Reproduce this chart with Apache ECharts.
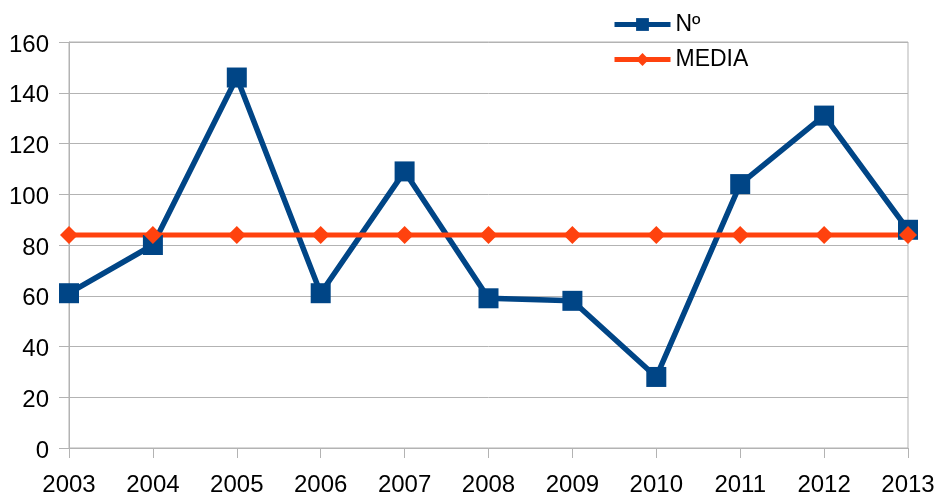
<!DOCTYPE html>
<html><head><meta charset="utf-8">
<script src="https://cdn.jsdelivr.net/npm/echarts@6/dist/echarts.min.js"></script>
<style>html,body{margin:0;padding:0;background:#fff}#c{width:940px;height:497px}</style>
</head><body><div id="c"></div>
<script>
var years = ['2003','2004','2005','2006','2007','2008','2009','2010','2011','2012','2013'];
var numValues = [61, 80, 146, 61, 109, 59, 58, 28, 104, 131, 86];
var mediaValues = [83.9, 83.9, 83.9, 83.9, 83.9, 83.9, 83.9, 83.9, 83.9, 83.9, 83.9];
var seriesNames = ['Nº', 'MEDIA'];

var chart = echarts.init(document.getElementById('c'), null, {renderer: 'canvas'});
var font = 'Liberation Sans, Arial, sans-serif';
chart.setOption({
  animation: false,
  backgroundColor: '#fff',
  grid: {left: 69, right: 32, top: 42, bottom: 47, show: true, borderColor: '#b3b3b3', borderWidth: 1, backgroundColor: 'transparent'},
  legend: {
    orient: 'vertical', left: 607, top: 8, itemGap: 12, itemWidth: 56, itemHeight: 16,
    lineStyle: {width: 5},
    textStyle: {fontFamily: font, fontSize: 23, color: '#000', padding: [0, 0, 0, 0]},
    data: [seriesNames[0], seriesNames[1]]
  },
  xAxis: {
    type: 'category', data: years, boundaryGap: false,
    axisLine: {lineStyle: {color: '#b3b3b3', width: 1}},
    axisTick: {show: true, length: 10, inside: false, alignWithLabel: true, lineStyle: {color: '#b3b3b3'}},
    axisLabel: {fontFamily: font, fontSize: 24, color: '#000', margin: 25},
    splitLine: {show: false}
  },
  yAxis: {
    type: 'value', min: 0, max: 160, interval: 20,
    axisLine: {show: true, lineStyle: {color: '#b3b3b3', width: 1}},
    axisTick: {show: true, length: 10, lineStyle: {color: '#b3b3b3'}},
    axisLabel: {
      fontFamily: font, fontSize: 24, color: '#000', margin: 20,
      formatter: '{a|{value}}',
      rich: {a: {fontFamily: font, fontSize: 24, color: '#000', padding: [6, 0, 0, 0]}}
    },
    splitLine: {show: true, lineStyle: {color: '#b3b3b3', width: 1}}
  },
  series: [
    {
      name: seriesNames[0], type: 'line', data: numValues,
      symbol: 'rect', symbolSize: 20,
      lineStyle: {color: '#004586', width: 5.5},
      itemStyle: {color: '#004586'}
    },
    {
      name: seriesNames[1], type: 'line', data: mediaValues,
      symbol: 'diamond', symbolSize: 18,
      lineStyle: {color: '#ff420e', width: 5},
      itemStyle: {color: '#ff420e'}
    }
  ]
});
</script></body></html>
